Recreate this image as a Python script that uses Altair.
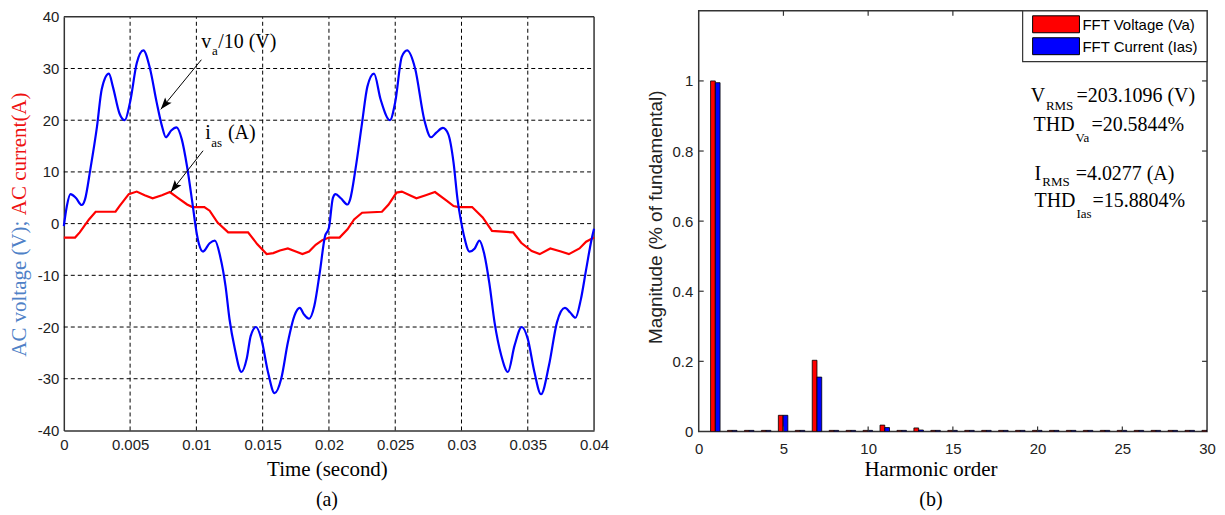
import altair as alt
import pandas as pd

# ---------------- panel (a): waveforms ----------------
va_t = [0, 0.00023, 0.0005, 0.0009, 0.00135, 0.0016, 0.002, 0.0025, 0.00286, 0.0034,
        0.0037, 0.0042, 0.0046, 0.005, 0.0055, 0.006, 0.0065, 0.007, 0.0074, 0.0077,
        0.0081, 0.0085, 0.0089, 0.0093, 0.0097, 0.01, 0.0102, 0.0105, 0.011, 0.0114,
        0.0118, 0.0122, 0.0125, 0.0129, 0.0134, 0.0138, 0.0141, 0.0145, 0.0149, 0.0154,
        0.0159, 0.0164, 0.0169, 0.0174, 0.0178, 0.0181, 0.0185, 0.0189, 0.0193, 0.0197,
        0.02, 0.0203, 0.0205, 0.0209, 0.0214, 0.0216, 0.022, 0.0225, 0.0229, 0.0234,
        0.0239, 0.0246, 0.025, 0.0255, 0.0259, 0.0265, 0.0272, 0.0277, 0.0281, 0.0286,
        0.029, 0.0294, 0.0297, 0.03, 0.0302, 0.0306, 0.031, 0.03135, 0.0317, 0.0321,
        0.0325, 0.033, 0.0335, 0.034, 0.03455, 0.035, 0.0355, 0.036, 0.0366, 0.0372,
        0.0378, 0.0382, 0.0386, 0.039, 0.0394, 0.0398, 0.04]
va_v = [-0.5, 3.4, 5.7, 5.0, 3.6, 4.7, 10.5, 18.7, 26, 29,
        26.5, 21.3, 20, 23.5, 31, 33.5, 30, 23.5, 18.9, 16.7,
        18, 18.6, 16.3, 11, 4, -1.5, -4, -5.4, -3.8, -3.3,
        -6.4, -12.1, -18.5, -24.2, -28.7, -26.1, -21.7, -20, -22.3, -28.7,
        -32.8, -30, -23, -17.8, -16.3, -17.5, -18.4, -15.9, -9.6, -2.5,
        -0.8, 5.0, 5.7, 4.9, 3.7, 4.7, 10.5, 19.5, 26.5, 29,
        24, 20, 23.5, 32.3, 33.5, 30, 20, 16.7, 17.6, 18.5,
        17.3, 11.8, 4.7, 0, -2.5, -5.4, -4.8, -3.3, -5.7, -11.5,
        -19.2, -25.5, -28.7, -23.6, -20, -22.3, -28.7, -33, -27.4, -19.1,
        -16.3, -17.2, -18.2, -14.7, -8.9, -3.2, -1]

ia_t = [0, 0.00085, 0.0012, 0.0019, 0.0024, 0.0039, 0.0042, 0.0049, 0.0055, 0.0061,
        0.0067, 0.0074, 0.008, 0.0086, 0.0093, 0.0097, 0.0106, 0.011, 0.0116, 0.0124,
        0.0139, 0.0146, 0.0153, 0.0158, 0.0163, 0.0169, 0.0175, 0.018, 0.0185, 0.019,
        0.0195, 0.02, 0.0208, 0.0214, 0.0219, 0.0225, 0.024, 0.0245, 0.0251, 0.0255,
        0.0261, 0.0266, 0.0273, 0.028, 0.0289, 0.0294, 0.0298, 0.0308, 0.0316, 0.0323,
        0.0339, 0.0345, 0.0353, 0.0359, 0.0367, 0.0375, 0.0381, 0.0389, 0.0394, 0.04]
ia_v = [-2.7, -2.7, -1.7, 0.8, 2.3, 2.3, 3.4, 5.7, 6.2, 5.5,
        4.9, 5.5, 6.1, 5.0, 3.7, 3.2, 3.2, 2.5, 0.2, -1.7,
        -1.7, -4.0, -5.9, -5.7, -5.2, -4.8, -5.4, -5.9, -5.4, -4.1,
        -3.2, -2.7, -2.7, -1.1, 0.8, 2.1, 2.3, 3.7, 6.0, 6.2,
        5.5, 4.9, 5.5, 6.1, 4.4, 3.4, 3.2, 3.2, 1.2, -1.4,
        -1.7, -3.7, -5.3, -5.9, -4.8, -5.4, -5.9, -4.8, -3.5, -2.7]

a_x_ticks = [0, 0.005, 0.01, 0.015, 0.02, 0.025, 0.03, 0.035, 0.04]
a_y_ticks = [-40, -30, -20, -10, 0, 10, 20, 30, 40]

# annotations of panel (a): text, t, v
a_main_txt = ["v", "/10 (V)", "i", "(A)"]
a_main_t = [0.010376, 0.011654, 0.010677, 0.012383]
a_main_v = [34.0, 34.0, 16.35, 16.35]
a_sub_txt = ["a", "as"]
a_sub_t = [0.01117, 0.011128]
a_sub_v = [32.7, 14.75]
arrow_t0 = [0.010376, 0.010504]
arrow_v0 = [31.7, 14.1]
arrow_t1 = [0.007316, 0.008068]
arrow_v1 = [22.1, 6.1]
arrow_ang = [219.3, 217.8]

# ---------------- panel (b): FFT ----------------
harmonics = list(range(1, 31))
fft_va = [1.0, 0.003, 0.003, 0.003, 0.046, 0.003, 0.203, 0.003, 0.003, 0.003,
          0.018, 0.003, 0.010, 0.003, 0.003, 0.003, 0.003, 0.003, 0.003, 0.003,
          0.003, 0.003, 0.003, 0.003, 0.003, 0.003, 0.003, 0.003, 0.003, 0.003]
fft_ias = [0.995, 0.003, 0.003, 0.003, 0.046, 0.003, 0.155, 0.003, 0.003, 0.003,
           0.011, 0.003, 0.004, 0.003, 0.003, 0.003, 0.003, 0.003, 0.003, 0.003,
           0.003, 0.003, 0.003, 0.003, 0.003, 0.003, 0.003, 0.003, 0.003, 0.003]
b_x_ticks = [0, 5, 10, 15, 20, 25, 30]
b_y_ticks = [0, 0.2, 0.4, 0.6, 0.8, 1]
legend_labels = ["FFT Voltage (Va)", "FFT Current (Ias)"]
series_colors = ["#ff0000", "#0000ff"]

b_main_txt = ["V", "=203.1096 (V)", "THD", "=20.5844%", "I", "=4.0277 (A)", "THD", "=15.8804%"]
b_main_h = [19.59, 22.3, 19.765, 23.18, 19.82, 22.25, 19.82, 23.24]
b_main_m = [0.939, 0.939, 0.8563, 0.8563, 0.7186, 0.7186, 0.6403, 0.6403]
b_sub_txt = ["RMS", "Va", "RMS", "Ias"]
b_sub_h = [20.49, 22.24, 20.28, 22.29]
b_sub_m = [0.9157, 0.8263, 0.7007, 0.6093]

SERIF = "Liberation Serif"
SANS = "Liberation Sans"
FRAME = "#333333"
LABEL = "#222222"
ARROW_PATH = "M0,0L-0.35,1L0,0.8L0.35,1Z"

# ================= panel (a) =================
W_A, H_A = 532, 421
xs_a = alt.Scale(domain=[0, 0.04], nice=False, zero=False)
ys_a = alt.Scale(domain=[-40, 40], range=[H_A, 6], nice=False, zero=False)
common_axis = dict(title=None, grid=False, ticks=False, tickSize=0, labelFlush=False,
                   labelOverlap=False, labelExpr="datum.value + ''", domainColor=FRAME,
                   domainWidth=1.5, labelFont=SANS, labelFontSize=15, labelColor=LABEL)
ax_x_a = alt.Axis(values=a_x_ticks, labelPadding=7, **common_axis)
ax_y_a = alt.Axis(values=a_y_ticks, labelPadding=5, **common_axis)


def xa(f):
    return alt.X(f, type="quantitative", scale=xs_a, axis=ax_x_a)


def ya(f):
    return alt.Y(f, type="quantitative", scale=ys_a, axis=ax_y_a)


def xad(v):
    return alt.XDatum(v, type="quantitative", scale=xs_a, axis=ax_x_a)


def yad(v):
    return alt.YDatum(v, type="quantitative", scale=ys_a, axis=ax_y_a)


grid_style = dict(color="black", strokeDash=[4, 3], strokeWidth=1)
grid_x = alt.Chart(pd.DataFrame({"t": a_x_ticks[1:-1]})).mark_rule(**grid_style).encode(
    x=xa("t"), y=yad(a_y_ticks[0]), y2=alt.Y2Datum(a_y_ticks[-1]))
grid_y = alt.Chart(pd.DataFrame({"v": a_y_ticks[1:-1]})).mark_rule(**grid_style).encode(
    y=ya("v"), x=xad(a_x_ticks[0]), x2=alt.X2Datum(a_x_ticks[-1]))
frame_top = alt.Chart(pd.DataFrame({"v": [a_y_ticks[-1]]})).mark_rule(color=FRAME, strokeWidth=1.5).encode(
    y=ya("v"), x=xad(a_x_ticks[0]), x2=alt.X2Datum(a_x_ticks[-1]))
frame_right = alt.Chart(pd.DataFrame({"t": [a_x_ticks[-1]]})).mark_rule(color=FRAME, strokeWidth=1.5).encode(
    x=xa("t"), y=yad(a_y_ticks[0]), y2=alt.Y2Datum(a_y_ticks[-1]))

line_v = alt.Chart(pd.DataFrame({"t": va_t, "v": va_v})).mark_line(
    color="#0000ff", strokeWidth=2.2, interpolate="monotone").encode(x=xa("t"), y=ya("v"))
line_i = alt.Chart(pd.DataFrame({"t": ia_t, "v": ia_v})).mark_line(
    color="#ff0000", strokeWidth=2.2, interpolate="linear").encode(x=xa("t"), y=ya("v"))

ann_main = alt.Chart(pd.DataFrame({"t": a_main_t, "v": a_main_v, "s": a_main_txt})).mark_text(
    font=SERIF, fontSize=20, align="left", baseline="alphabetic", color="black").encode(
    x=xa("t"), y=ya("v"), text="s:N")
ann_sub = alt.Chart(pd.DataFrame({"t": a_sub_t, "v": a_sub_v, "s": a_sub_txt})).mark_text(
    font=SERIF, fontSize=13, align="left", baseline="alphabetic", color="black").encode(
    x=xa("t"), y=ya("v"), text="s:N")
arrows_df = pd.DataFrame({"t0": arrow_t0, "v0": arrow_v0, "t1": arrow_t1, "v1": arrow_v1, "ang": arrow_ang})
arrow_lines = alt.Chart(arrows_df).mark_rule(color="black", strokeWidth=1).encode(
    x=xa("t0"), y=ya("v0"), x2=alt.X2("t1"), y2=alt.Y2("v1"))
arrow_heads = alt.Chart(arrows_df).mark_point(
    shape=ARROW_PATH, size=576, filled=True, color="black", opacity=1, strokeWidth=0).encode(
    x=xa("t1"), y=ya("v1"), angle=alt.Angle("ang:Q", scale=None))

title_x_a = alt.Chart(pd.DataFrame({"s": ["Time (second)"]})).mark_text(
    font=SERIF, fontSize=21, align="center", baseline="alphabetic", color="black").encode(
    text="s:N", x=alt.value(264.5), y=alt.value(467))
label_a = alt.Chart(pd.DataFrame({"s": ["(a)"]})).mark_text(
    font=SERIF, fontSize=20, align="center", baseline="alphabetic", color="black").encode(
    text="s:N", x=alt.value(264), y=alt.value(497))
title_y_blue = alt.Chart(pd.DataFrame({"s": ["AC voltage (V);"]})).mark_text(
    font=SERIF, fontSize=21, align="left", baseline="middle", angle=270, color="#4f81c7").encode(
    text="s:N", x=alt.value(-44), y=alt.value(347))
title_y_red = alt.Chart(pd.DataFrame({"s": ["AC current(A)"]})).mark_text(
    font=SERIF, fontSize=21, align="left", baseline="middle", angle=270, color="#ee1111").encode(
    text="s:N", x=alt.value(-44), y=alt.value(205))

left = alt.layer(
    grid_x, grid_y, frame_top, frame_right, line_i, line_v,
    arrow_lines, arrow_heads, ann_main, ann_sub,
    title_x_a, label_a, title_y_blue, title_y_red,
).properties(width=W_A, height=H_A, view=alt.ViewBackground(stroke=None))

# ================= panel (b) =================
W_B, H_B = 510, 422
xs_b = alt.Scale(domain=[0, 30], nice=False, zero=False)
ys_b = alt.Scale(domain=[0, 1.2], nice=False, zero=False)
common_b = dict(common_axis)
common_b["domain"] = False
ax_x_b = alt.Axis(values=b_x_ticks, labelPadding=10, **common_b)
ax_y_b = alt.Axis(values=b_y_ticks, labelPadding=6, **common_b)


def xb(f):
    return alt.X(f, type="quantitative", scale=xs_b, axis=ax_x_b)


def yb(f):
    return alt.Y(f, type="quantitative", scale=ys_b, axis=ax_y_b)


df_b = pd.DataFrame({"h": harmonics, "va": fft_va, "ias": fft_ias})
bar_style = dict(stroke="black", strokeWidth=0.8, clip=True)
bars_v = alt.Chart(df_b).transform_calculate(x0="datum.h - 0.3", x1="datum.h - 0.02").mark_rect(
    fill=series_colors[0], **bar_style).encode(
    x=xb("x0"), x2=alt.X2("x1"), y=yb("va"), y2=alt.Y2Datum(0))
bars_i = alt.Chart(df_b).transform_calculate(x0="datum.h - 0.02", x1="datum.h + 0.26").mark_rect(
    fill=series_colors[1], **bar_style).encode(
    x=xb("x0"), x2=alt.X2("x1"), y=yb("ias"), y2=alt.Y2Datum(0))

tick_style = dict(color=FRAME, strokeWidth=1.2)
xt = pd.DataFrame({"h": b_x_ticks[1:-1]})
yt = pd.DataFrame({"m": b_y_ticks[1:]})
ticks_bottom = alt.Chart(xt).mark_rule(**tick_style).encode(x=xb("h"), y=alt.value(H_B), y2=alt.value(H_B - 5))
ticks_top = alt.Chart(xt).mark_rule(**tick_style).encode(x=xb("h"), y=alt.value(0), y2=alt.value(5))
ticks_left = alt.Chart(yt).mark_rule(**tick_style).encode(y=yb("m"), x=alt.value(0), x2=alt.value(5))
ticks_right = alt.Chart(yt).mark_rule(**tick_style).encode(y=yb("m"), x=alt.value(W_B), x2=alt.value(W_B - 5))

legend_box = alt.Chart(pd.DataFrame({"k": [0]})).mark_rect(
    fill="white", stroke=FRAME, strokeWidth=1.2).encode(
    x=alt.value(325), x2=alt.value(W_B), y=alt.value(0), y2=alt.value(51))
legend_layers = []
for i, (lab, col) in enumerate(zip(legend_labels, series_colors)):
    d = pd.DataFrame({"s": [lab]})
    top = 5 + 22 * i
    legend_layers.append(alt.Chart(d).mark_rect(fill=col, stroke="black", strokeWidth=1).encode(
        x=alt.value(335), x2=alt.value(382), y=alt.value(top), y2=alt.value(top + 17)))
    legend_layers.append(alt.Chart(d).mark_text(
        font=SANS, fontSize=15, align="left", baseline="middle", color="black").encode(
        text="s:N", x=alt.value(385), y=alt.value(top + 9)))

b_main = alt.Chart(pd.DataFrame({"h": b_main_h, "m": b_main_m, "s": b_main_txt})).mark_text(
    font=SERIF, fontSize=20, align="left", baseline="alphabetic", color="black").encode(
    x=xb("h"), y=yb("m"), text="s:N")
b_sub = alt.Chart(pd.DataFrame({"h": b_sub_h, "m": b_sub_m, "s": b_sub_txt})).mark_text(
    font=SERIF, fontSize=13, align="left", baseline="alphabetic", color="black").encode(
    x=xb("h"), y=yb("m"), text="s:N")

title_x_b = alt.Chart(pd.DataFrame({"s": ["Harmonic order"]})).mark_text(
    font=SERIF, fontSize=21, align="center", baseline="alphabetic", color="black").encode(
    text="s:N", x=alt.value(233), y=alt.value(467))
label_b = alt.Chart(pd.DataFrame({"s": ["(b)"]})).mark_text(
    font=SERIF, fontSize=20, align="center", baseline="alphabetic", color="black").encode(
    text="s:N", x=alt.value(233), y=alt.value(497))
title_y_b = alt.Chart(pd.DataFrame({"s": ["Magnitude (% of fundamental)"]})).mark_text(
    font=SANS, fontSize=19, align="center", baseline="middle", angle=270, color=LABEL).encode(
    text="s:N", x=alt.value(-43), y=alt.value(207))

right = alt.layer(
    bars_v, bars_i, ticks_bottom, ticks_top, ticks_left, ticks_right,
    legend_box, *legend_layers, b_main, b_sub, title_x_b, label_b, title_y_b,
).properties(width=W_B, height=H_B, view=alt.ViewBackground(stroke=FRAME, strokeWidth=1.5))

chart = alt.HConcatChart(hconcat=[left, right], spacing=105, bounds="flush", padding=0)
chart.save("out.html", embed_options={"renderer": "svg", "actions": False})
